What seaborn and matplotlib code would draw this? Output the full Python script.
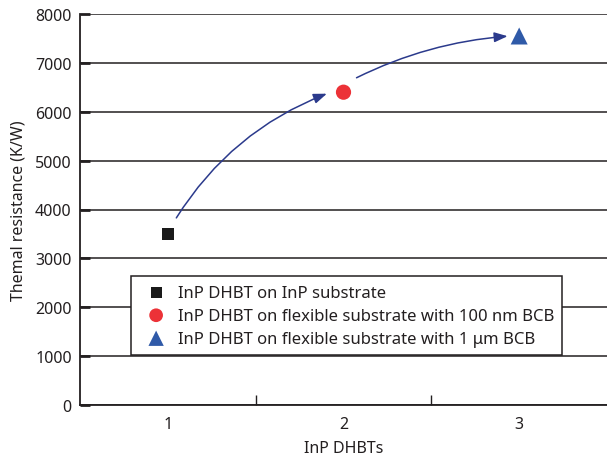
import matplotlib
matplotlib.use("Agg")
import matplotlib.pyplot as plt
import seaborn as sns
import pandas as pd
from matplotlib.patches import FancyArrowPatch

labels = ["InP DHBT on InP substrate",
          "InP DHBT on flexible substrate with 100 nm BCB",
          "InP DHBT on flexible substrate with 1 \u03bcm BCB"]
x_vals = [1, 2, 3]
y_vals = [3500, 6400, 7550]
colors = ["#1a1a1a", "#ec3237", "#2f5aa8"]
markers = ["s", "o", "^"]
x_ticks = [1, 2, 3]
y_ticks = [0, 1000, 2000, 3000, 4000, 5000, 6000, 7000, 8000]

sns.set_theme(style="white")
plt.rcParams['font.family'] = ['Noto Sans', 'DejaVu Sans']

fig = plt.figure(figsize=(6.07, 4.60), dpi=100)
ax = fig.add_axes([80/607, 54/460, 527/607, 391/460])

df = pd.DataFrame({"x": x_vals, "y": y_vals, "label": labels})
sizes = [80, 120, 150]
for i in range(3):
    sns.scatterplot(data=df.iloc[[i]], x="x", y="y", color=colors[i], marker=markers[i],
                    s=sizes[i], edgecolor="none", label=labels[i], ax=ax, zorder=5)

ax.set_xlim(0.5, 3.5)
ax.set_ylim(0, 8000)
ax.set_xticks(x_ticks)
ax.set_xticklabels([str(t) for t in x_ticks])
ax.set_xticks([1.5, 2.5], minor=True)
ax.set_yticks(y_ticks)
ax.set_yticklabels([str(t) for t in y_ticks])
ax.tick_params(axis='x', which='major', length=0, labelsize=11.5, pad=8, colors='#231f20')
ax.tick_params(axis='x', which='minor', length=7, width=1, direction='in', color='#231f20', bottom=True)
ax.tick_params(axis='y', which='major', length=7, width=2, direction='in', labelsize=11.5, pad=6, colors='#231f20', left=True)
ax.yaxis.grid(True, color='#231f20', linewidth=1.1)
ax.xaxis.grid(False)
ax.set_axisbelow(True)
for s in ['top', 'right']:
    ax.spines[s].set_visible(False)
for s in ['left', 'bottom']:
    ax.spines[s].set_color('#231f20')
    ax.spines[s].set_linewidth(1.3)

ax.set_xlabel("InP DHBTs", fontsize=11.5, color='#231f20', labelpad=6)
ax.set_ylabel("Themal resistance (K/W)", fontsize=11.5, color='#231f20', labelpad=6)

arrow_color = "#2b3a8c"
a1 = FancyArrowPatch((1.04, 3780), (1.92, 6390), connectionstyle="arc3,rad=-0.17",
                     arrowstyle="-|>,head_length=8,head_width=3", color=arrow_color, lw=1.1, zorder=4)
a2 = FancyArrowPatch((2.06, 6670), (2.95, 7550), connectionstyle="arc3,rad=-0.1",
                     arrowstyle="-|>,head_length=8,head_width=3", color=arrow_color, lw=1.1, zorder=4)
ax.add_patch(a1)
ax.add_patch(a2)

leg = ax.legend(loc='lower left', bbox_to_anchor=(0.097, 0.128), borderaxespad=0, fontsize=12,
                frameon=True, fancybox=False, edgecolor='#231f20', framealpha=1, borderpad=0.5,
                handletextpad=0.3, labelspacing=0.42, markerscale=0.9)
leg.get_frame().set_linewidth(1.1)
for t in leg.get_texts():
    t.set_color('#231f20')

fig.savefig("out.png", dpi=100)
